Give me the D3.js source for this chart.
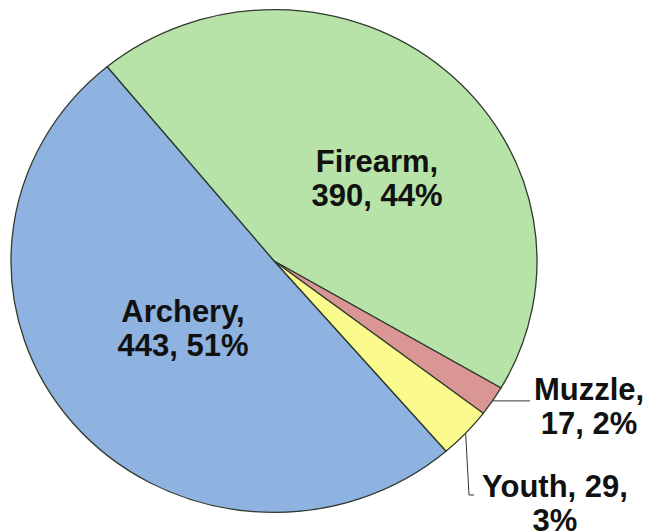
<!DOCTYPE html>
<html>
<head>
<meta charset="utf-8">
<script src="https://cdn.jsdelivr.net/npm/d3@7"></script>
<style>
  body { margin: 0; background: #fff; }
  text { font-family: "Liberation Sans", Arial, sans-serif; font-weight: bold; fill: #111; }
</style>
</head>
<body>
<svg width="647" height="532"></svg>
<script>
// datos del grafico
var categorias = ["Firearm", "Muzzle", "Youth", "Archery"];
var valores = [390, 17, 29, 443];
var porcentajes = ["44%", "2%", "3%", "51%"];
var colores = ["#b7e2a8", "#d99694", "#fbfa8c", "#8fb3e1"];

var cx = 274, cy = 261, radio = 263, escalaY = 0.956;

var svg = d3.select("svg");

var pie = d3.pie()
  .sort(null)
  .value(function (d) { return d; })
  .startAngle(-39.4 * Math.PI / 180)
  .endAngle(-39.4 * Math.PI / 180 + 2 * Math.PI);

var arcos = pie(valores);
var arco = d3.arc().innerRadius(0).outerRadius(radio);

svg.append("g")
  .attr("transform", "translate(" + cx + "," + cy + ") scale(1," + escalaY + ")")
  .selectAll("path")
  .data(arcos)
  .enter()
  .append("path")
  .attr("d", arco)
  .attr("fill", function (d, i) { return colores[i]; })
  .attr("stroke", "#2f3a2f")
  .attr("stroke-width", 1.3)
  .attr("vector-effect", "non-scaling-stroke");

// punto del borde en el angulo medio de cada porcion
function borde(d) {
  var a = (d.startAngle + d.endAngle) / 2;
  return [cx + radio * Math.sin(a), cy - radio * escalaY * Math.cos(a)];
}

// lineas guia para las porciones chicas
var pm = borde(arcos[1]);
svg.append("path")
  .attr("d", "M" + pm[0] + "," + pm[1] + "L530," + pm[1])
  .attr("stroke", "#333").attr("fill", "none").attr("stroke-width", 1);

var py = borde(arcos[2]);
svg.append("path")
  .attr("d", "M" + py[0] + "," + py[1] + "L469,495L474,495")
  .attr("stroke", "#333").attr("fill", "none").attr("stroke-width", 1);

// etiquetas (posicion, lineas)
var etiquetas = [
  { x: 377, y: 172, lineas: [categorias[0] + ",", valores[0] + ", " + porcentajes[0]] },
  { x: 589, y: 400, lineas: [categorias[1] + ",", valores[1] + ", " + porcentajes[1]] },
  { x: 555, y: 497, lineas: [categorias[2] + ", " + valores[2] + ",", porcentajes[2]] },
  { x: 183, y: 322, lineas: [categorias[3] + ",", valores[3] + ", " + porcentajes[3]] }
];

etiquetas.forEach(function (e) {
  var t = svg.append("text")
    .attr("text-anchor", "middle")
    .attr("font-size", "31px");
  e.lineas.forEach(function (l, i) {
    t.append("tspan")
      .attr("x", e.x)
      .attr("y", e.y + i * 34)
      .text(l);
  });
});
</script>
</body>
</html>
